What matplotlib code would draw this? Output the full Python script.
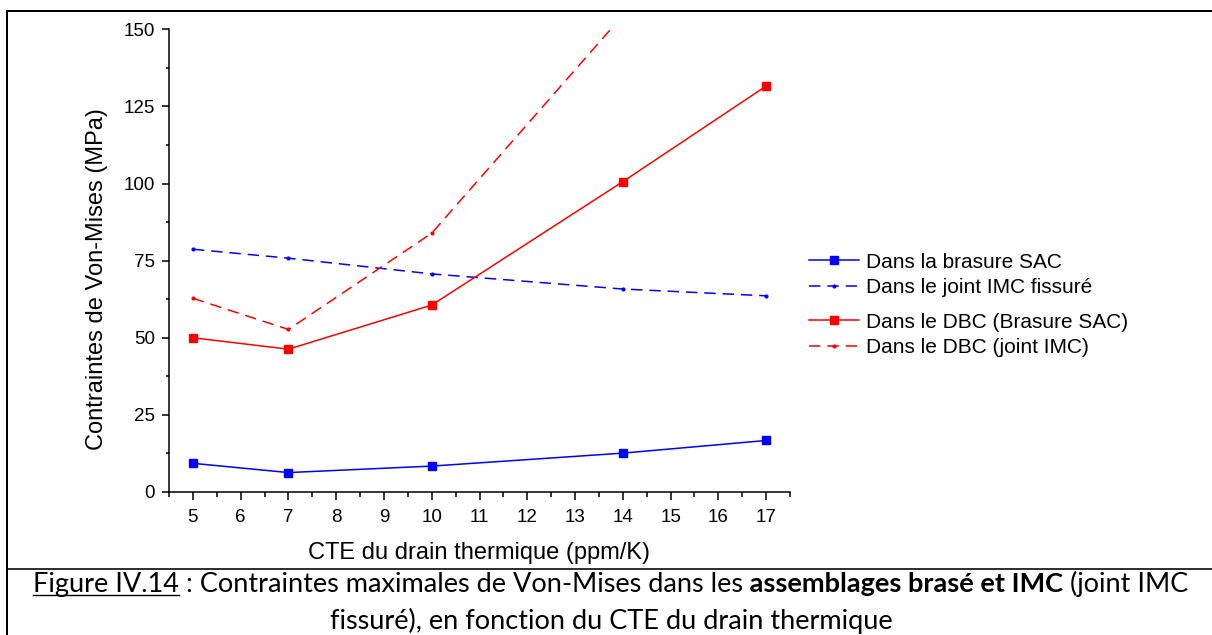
import matplotlib.pyplot as plt
from matplotlib.lines import Line2D
from matplotlib.transforms import IdentityTransform
from matplotlib.ticker import MultipleLocator

# Valeurs (MPa)
cte = [5, 7, 10, 14, 17]
brasure_sac = [9.3, 6.3, 8.4, 12.6, 16.7]
joint_imc = [78.7, 75.8, 70.7, 65.8, 63.6]
dbc_brasure = [50.0, 46.3, 60.6, 100.6, 131.6]
cte_dbc_imc = [5, 7, 10, 14]
dbc_imc = [62.8, 52.7, 83.9, 154.5]

labels = ['Dans la brasure SAC', 'Dans le joint IMC fissuré',
          'Dans le DBC (Brasure SAC)', 'Dans le DBC (joint IMC)']

plt.rcParams['font.family'] = ['Liberation Sans', 'DejaVu Sans']

W, H = 1212, 635
fig = plt.figure(figsize=(W / 100, H / 100), dpi=100)
ax = fig.add_axes([169 / W, 1 - 492 / H, 621 / W, 462.7 / H])

lw = 1.1
dash = (7.5, 4.5)
l1, = ax.plot(cte, brasure_sac, color='blue', lw=lw, marker='s', ms=6)
l2, = ax.plot(cte, joint_imc, color='blue', lw=lw, marker='.', ms=4, dashes=dash)
l3, = ax.plot(cte, dbc_brasure, color='red', lw=lw, marker='s', ms=6)
l4, = ax.plot(cte_dbc_imc, dbc_imc, color='red', lw=lw, marker='.', ms=4, dashes=dash)

ax.set_xlim(4.5, 17.5)
ax.set_ylim(0, 150)
ax.set_xticks(range(5, 18))
ax.set_yticks(range(0, 151, 25))
ax.xaxis.set_minor_locator(MultipleLocator(0.5))
ax.yaxis.set_minor_locator(MultipleLocator(12.5))
for s in ['top', 'right']:
    ax.spines[s].set_visible(False)
for s in ['left', 'bottom']:
    ax.spines[s].set_linewidth(1.1)
ax.tick_params(axis='x', which='major', direction='out', length=5.5, width=1.1, pad=7, labelsize=13.5)
ax.tick_params(axis='x', which='minor', direction='out', length=3.5, width=1.1)
ax.tick_params(axis='y', which='major', direction='out', length=5, width=1.1, pad=5, labelsize=13.5)
ax.tick_params(axis='y', which='minor', direction='out', length=2.5, width=1.1)

ax.set_xlabel('CTE du drain thermique (ppm/K)', fontsize=17, va='center')
ax.set_ylabel('Contraintes de Von-Mises (MPa)', fontsize=17, va='center')
ax.xaxis.set_label_coords(0.499, -0.132)
ax.yaxis.set_label_coords(-0.116, 0.46)

leg_kw = dict(loc='center left', frameon=False, fontsize=15, borderpad=0, borderaxespad=0,
              handlelength=2.4, handletextpad=0.35, labelspacing=0.33,
              bbox_transform=fig.transFigure)
leg1 = ax.legend([l1, l2], labels[:2], bbox_to_anchor=(809 / W, 1 - 275 / H), **leg_kw)
ax.add_artist(leg1)
ax.legend([l3, l4], labels[2:], bbox_to_anchor=(809 / W, 1 - 335 / H), **leg_kw)

# cadre du tableau
px = IdentityTransform()
for xs, ys, w in [([7, W], [H - 11, H - 11], 2), ([7, 7], [0, H - 11], 2), ([7, W], [H - 569, H - 569], 1.6)]:
    fig.add_artist(Line2D(xs, ys, color='black', lw=w * 0.72, transform=px))

# légende de la figure
renderer = fig.canvas.get_renderer()
line1 = [('Figure IV.14', 'normal'), (' : Contraintes maximales de Von-Mises dans les', 'normal'),
         (' assemblages brasé et IMC', 'bold'), (' (joint IMC', 'normal')]
line2 = [('fissuré), en fonction du CTE du drain thermique', 'normal')]


def caption_line(pieces, y, size):
    texts = [fig.text(0, 0, s, fontsize=size, fontweight=wt, family='Lato',
                      transform=px, va='baseline') for s, wt in pieces]
    widths = [t.get_window_extent(renderer).width for t in texts]
    x = 611 - sum(widths) / 2
    for t, w in zip(texts, widths):
        t.set_position((x, y))
        x += w
    return texts, sum(widths)


probe, total = caption_line(line1, H - 592, 20)
for t in probe:
    t.remove()
size = 20 * 1157 / total
t1, _ = caption_line(line1, H - 592, size)
caption_line(line2, H - 629, size)
bb = t1[0].get_window_extent(renderer)
fig.add_artist(Line2D([bb.x0, bb.x1], [H - 595, H - 595], color='black', lw=1.0, transform=px))

fig.savefig('out.png', dpi=100)
